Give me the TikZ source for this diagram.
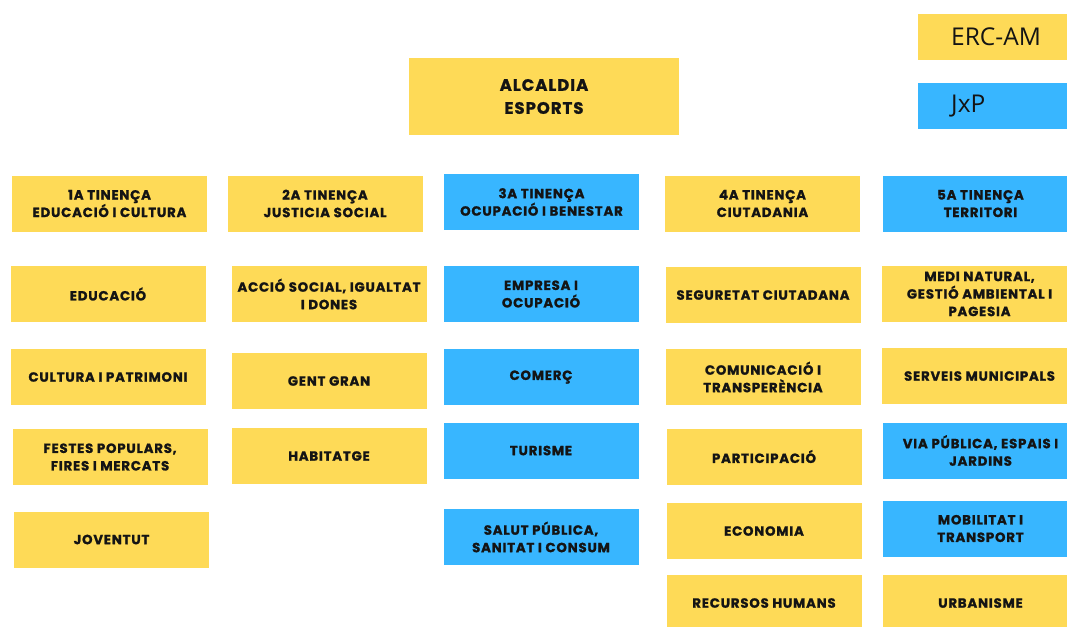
\documentclass[tikz,border=0pt]{standalone}
\usepackage{fontspec}
\newfontfamily\boxfont[LetterSpace=6, BoldFeatures={FakeBold=1.2}]{Poppins}
\newfontfamily\legfont{Open Sans}
\definecolor{ercyellow}{HTML}{FEDA57}
\definecolor{jxpblue}{HTML}{38B6FF}
\tikzset{
  dept/.style={inner sep=0pt, minimum width=195pt, minimum height=56pt,
    align=center, font=\boxfont\bfseries\fontsize{13.3}{17.5}\selectfont, text=black!92},
  ybox/.style={dept, fill=ercyellow},
  bbox/.style={dept, fill=jxpblue},
  legend/.style={inner xsep=0pt, inner ysep=0pt, minimum height=46pt, text width=150pt,
    align=left, anchor=north west,
    font=\legfont\fontsize{24.5}{28}\selectfont, text=black!92}
}
\begin{document}
\begin{tikzpicture}[x=1pt,y=-1pt]
\clip (0,0) rectangle (1067,626);
\fill[white] (0,0) rectangle (1067,626);
% legend
\node[legend, fill=ercyellow] (erc) at (918,14) {\hspace*{33pt}ERC-AM};
\node[legend, fill=jxpblue] (jxp) at (918,83) {\hspace*{33pt}JxP};
% top
\node[ybox, minimum width=270pt, minimum height=77pt, font=\boxfont\bfseries\fontsize{16.5}{23}\selectfont] (alc) at (544,96.5) {ALCALDIA\\ESPORTS};
% row 1
\node[ybox] (t1) at (109.5,203.5) {1A TINENÇA\\EDUCACIÓ I CULTURA};
\node[ybox] (t2) at (325,203.5) {2A TINENÇA\\JUSTICIA SOCIAL};
\node[bbox] (t3) at (541.5,202) {3A TINENÇA\\OCUPACIÓ I BENESTAR};
\node[ybox] (t4) at (762.5,203.5) {4A TINENÇA\\CIUTADANIA};
\node[bbox] (t5) at (980.5,203.5) {5A TINENÇA\\TERRITORI};
% row 2
\node[ybox] (edu) at (108,294) {EDUCACIÓ};
\node[ybox] (acc) at (329,294) {ACCIÓ SOCIAL, IGUALTAT\\I DONES};
\node[bbox] (emp) at (541,294) {EMPRESA I\\OCUPACIÓ};
\node[ybox] (seg) at (763,295) {SEGURETAT CIUTADANA};
\node[ybox] (med) at (979.5,294) {MEDI NATURAL,\\GESTIÓ AMBIENTAL I\\PAGESIA};
% row 3
\node[ybox] (cul) at (108,377) {CULTURA I PATRIMONI};
\node[ybox] (gen) at (329,381) {GENT GRAN};
\node[bbox] (com) at (541,377) {COMERÇ};
\node[ybox] (cmt) at (763,377) {COMUNICACIÓ I\\TRANSPERÈNCIA};
\node[ybox] (ser) at (979.5,376) {SERVEIS MUNICIPALS};
% row 4
\node[ybox] (fes) at (110,457) {FESTES POPULARS,\\FIRES I MERCATS};
\node[ybox] (hab) at (329,456) {HABITATGE};
\node[bbox] (tur) at (541,450.5) {TURISME};
\node[ybox] (par) at (764,456.5) {PARTICIPACIÓ};
\node[bbox] (via) at (980.5,450.5) {VIA PÚBLICA, ESPAIS I\\JARDINS};
% row 5
\node[ybox] (jov) at (111.5,539.5) {JOVENTUT};
\node[bbox] (sal) at (541,537) {SALUT PÚBLICA,\\SANITAT I CONSUM};
\node[ybox] (eco) at (764,531) {ECONOMIA};
\node[bbox] (mob) at (980.5,528.5) {MOBILITAT I\\TRANSPORT};
% row 6
\node[ybox] (rec) at (764,603) {RECURSOS HUMANS};
\node[ybox] (urb) at (980.5,603) {URBANISME};
\end{tikzpicture}
\end{document}
